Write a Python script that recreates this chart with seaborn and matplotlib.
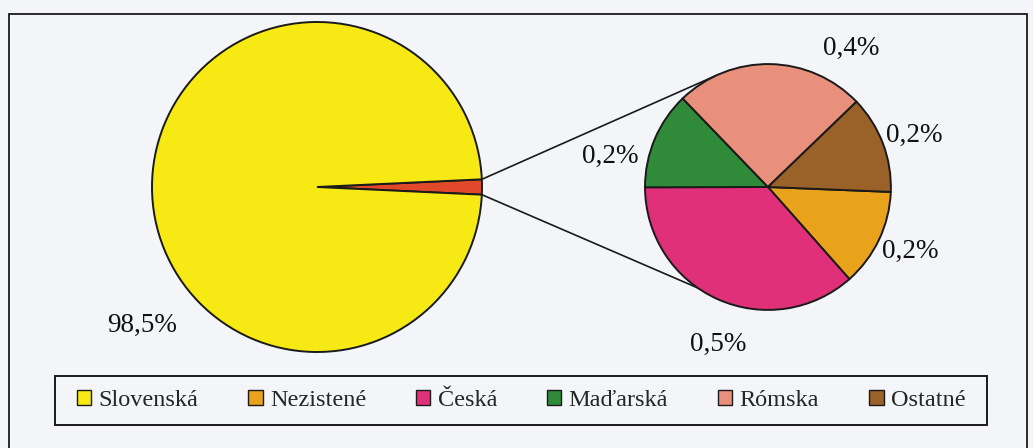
import numpy as np
import matplotlib
matplotlib.use("Agg")
import matplotlib.pyplot as plt
import seaborn as sns
from matplotlib.patches import Patch, Rectangle

# ---- data ----
categories = ["Slovenská", "Nezistené", "Česká", "Maďarská", "Rómska", "Ostatné"]
main_share = 98.5                                  # Slovenská
detail_names = ["Nezistené", "Česká", "Maďarská", "Rómska", "Ostatné"]
detail_values = [0.19, 0.54, 0.19, 0.37, 0.19]    # shares in %

# ---- style ----
bg = "#f3f5f8"
col_main = "#f7ea14"
col_rest = "#e04a2a"
detail_colors = ["#e8a21c", "#e0307a", "#2f8a3a", "#e8907c", "#9a6228"]
edge = dict(edgecolor="#1a1a1a", linewidth=1.4)

sns.set_theme(style="white")
plt.rcParams["font.family"] = ["Liberation Serif", "DejaVu Serif"]

def fmt(v):
    return f"{v:.1f}".replace(".", ",") + "%"

fig = plt.figure(figsize=(10.33, 4.48), dpi=100, facecolor=bg)
ax = fig.add_axes([0, 0, 1, 1])
ax.set_facecolor(bg)

others = sum(detail_values)
span = others / (main_share + others) * 360.0

# main pie
ax.pie([others, main_share], colors=[col_rest, col_main],
       startangle=-span / 2, counterclock=True, radius=1.0,
       center=(0, 0), wedgeprops=edge)

# secondary pie
cx2, r2 = 2.733, 0.745
ax.pie(detail_values, colors=detail_colors, startangle=-2.3,
       counterclock=False, radius=r2, center=(cx2, 0), wedgeprops=edge)

# connector lines
a_top, a_bot = np.deg2rad(span / 2), np.deg2rad(-span / 2)
b_top, b_bot = np.deg2rad(114.3), np.deg2rad(235.2)
for a, b in [(a_top, b_top), (a_bot, b_bot)]:
    ax.plot([np.cos(a), cx2 + r2 * np.cos(b)],
            [np.sin(a), r2 * np.sin(b)], color="#1a1a1a", lw=1.2, zorder=0.5)

# labels
ang, dist = np.deg2rad(218.3), 1.35
ax.text(np.cos(ang) * dist, np.sin(ang) * dist, fmt(main_share),
        ha="center", va="center", fontsize=19.5, color="#111111")
label_pos = {"Nezistené": (-24.3, 1.27), "Česká": (-107.5, 1.34),
             "Maďarská": (169.2, 1.31), "Rómska": (59.0, 1.32),
             "Ostatné": (19.5, 1.26)}
for name, v in zip(detail_names, detail_values):
    a, d = label_pos[name]
    a = np.deg2rad(a)
    ax.text(cx2 + np.cos(a) * d * r2, np.sin(a) * d * r2, fmt(v),
            ha="center", va="center", fontsize=19.5, color="#111111")

ax.set_xlim(-317 / 165, (1033 - 317) / 165)
ax.set_ylim(-(448 - 187) / 165, 187 / 165)
ax.set_aspect("equal")
ax.axis("off")

# legend (entries) and its frame
handles = [Patch(facecolor=c, edgecolor="#1a1a1a", linewidth=1.0)
           for c in [col_main] + detail_colors]
leg = fig.legend(handles, categories, ncol=6, loc="center",
                 bbox_to_anchor=(62 / 1033, 1 - 425 / 448, 918 / 1033, 49 / 448),
                 mode="expand", borderaxespad=0, fontsize=17.5,
                 handlelength=0.6, handleheight=0.6,
                 handletextpad=0.3, columnspacing=1.5, borderpad=0.6,
                 frameon=False)
fig.patches.append(Rectangle((55 / 1033, 1 - 425 / 448), 932 / 1033, 49 / 448,
                             transform=fig.transFigure, facecolor=bg,
                             edgecolor="#1a1a1a", lw=1.4, zorder=-1))

# outer chart frame
fig.patches.append(Rectangle((9 / 1033, -0.1), (1027 - 9) / 1033, 1 - 14 / 448 + 0.1,
                             transform=fig.transFigure, fill=False,
                             edgecolor="#1a1a1a", lw=1.3))

fig.savefig("out.png", dpi=100, facecolor=bg)
